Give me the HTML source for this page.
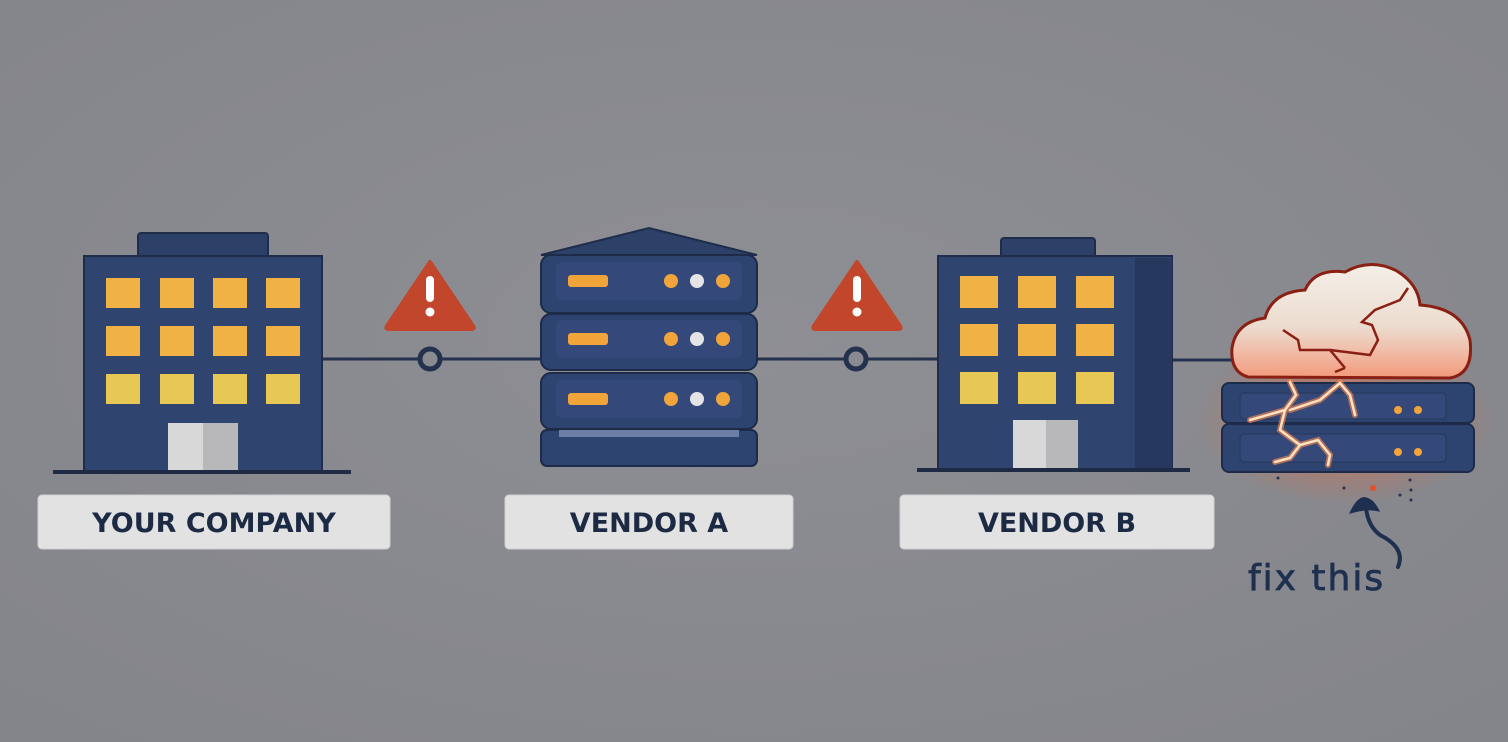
<!DOCTYPE html>
<html><head><style>
html,body{margin:0;padding:0;background:#898a8f;}
svg{display:block}
</style></head><body>
<svg width="1508" height="742" viewBox="0 0 1508 742" xmlns="http://www.w3.org/2000/svg">
<defs>
<radialGradient id="bg" cx="50%" cy="45%" r="70%"><stop offset="0" stop-color="#8e8f94"/><stop offset="1" stop-color="#84858a"/></radialGradient>
<radialGradient id="glow" cx="50%" cy="50%" r="50%"><stop offset="0" stop-color="#ff5a2a" stop-opacity="0.6"/><stop offset="1" stop-color="#ff5a2a" stop-opacity="0"/></radialGradient>
<linearGradient id="cloudg" x1="0" y1="0" x2="0" y2="1"><stop offset="0" stop-color="#f4efe8"/><stop offset="0.55" stop-color="#ecdccf"/><stop offset="1" stop-color="#f39a7c"/></linearGradient>
</defs>
<rect width="1508" height="742" fill="url(#bg)"/>

<g stroke="#25324d" stroke-width="3">
<line x1="322" y1="359" x2="541" y2="359"/>
<line x1="757" y1="359" x2="938" y2="359"/>
<line x1="1172" y1="360" x2="1235" y2="360"/>
</g>
<circle cx="430" cy="359" r="10" fill="#8a8b90" stroke="#25324d" stroke-width="5"/>
<circle cx="856" cy="359" r="10" fill="#8a8b90" stroke="#25324d" stroke-width="5"/>

<g>
<path d="M430 262 L473 326 Q475 329 471 329 L389 329 Q385 329 387 326 Z" fill="#c1462b" stroke="#c1462b" stroke-width="4" stroke-linejoin="round"/>
<rect x="426" y="276" width="8" height="26" rx="4" fill="#fff"/><circle cx="430" cy="312" r="4.5" fill="#fff"/>
<path d="M857 262 L900 326 Q902 329 898 329 L816 329 Q812 329 814 326 Z" fill="#c1462b" stroke="#c1462b" stroke-width="4" stroke-linejoin="round"/>
<rect x="853" y="276" width="8" height="26" rx="4" fill="#fff"/><circle cx="857" cy="312" r="4.5" fill="#fff"/>
</g>

<rect x="138" y="233" width="130" height="24" rx="3" fill="#2c4068" stroke="#1f2d4b" stroke-width="2"/>
<rect x="84" y="256" width="238" height="216" fill="#2f4570" stroke="#1f2d4b" stroke-width="2"/>
<g fill="#f0b245">
<rect x="106" y="278" width="34" height="30"/><rect x="160" y="278" width="34" height="30"/><rect x="213" y="278" width="34" height="30"/><rect x="266" y="278" width="34" height="30"/>
<rect x="106" y="326" width="34" height="30"/><rect x="160" y="326" width="34" height="30"/><rect x="213" y="326" width="34" height="30"/><rect x="266" y="326" width="34" height="30"/>
</g>
<g fill="#e8c855">
<rect x="106" y="374" width="34" height="30"/><rect x="160" y="374" width="34" height="30"/><rect x="213" y="374" width="34" height="30"/><rect x="266" y="374" width="34" height="30"/>
</g>
<rect x="168" y="423" width="70" height="49" fill="#d8d8d8"/><rect x="203" y="423" width="35" height="49" fill="#b8b8ba"/>
<rect x="53" y="470" width="298" height="4" fill="#1f2a44"/>

<path d="M541 255 L649 228 L757 255 Z" fill="#2c4068" stroke="#1f2d4b" stroke-width="2"/>
<g fill="#2e4470" stroke="#1e2b48" stroke-width="2">
<rect x="541" y="255" width="216" height="58" rx="10"/>
<rect x="541" y="314" width="216" height="56" rx="10"/>
<rect x="541" y="373" width="216" height="56" rx="10"/>
<rect x="541" y="430" width="216" height="36" rx="6"/>
</g>
<g fill="#34497a">
<rect x="556" y="262" width="186" height="38" rx="6"/>
<rect x="556" y="320" width="186" height="38" rx="6"/>
<rect x="556" y="380" width="186" height="38" rx="6"/>
</g>
<rect x="559" y="430" width="180" height="7" fill="#6a7ea6"/>
<g fill="#f0a43a">
<rect x="568" y="275" width="40" height="12" rx="3"/><circle cx="671" cy="281" r="7"/><circle cx="723" cy="281" r="7"/>
<rect x="568" y="333" width="40" height="12" rx="3"/><circle cx="671" cy="339" r="7"/><circle cx="723" cy="339" r="7"/>
<rect x="568" y="393" width="40" height="12" rx="3"/><circle cx="671" cy="399" r="7"/><circle cx="723" cy="399" r="7"/>
</g>
<g fill="#e4e4e6"><circle cx="697" cy="281" r="7"/><circle cx="697" cy="339" r="7"/><circle cx="697" cy="399" r="7"/></g>

<rect x="1001" y="238" width="94" height="22" rx="3" fill="#2c4068" stroke="#1f2d4b" stroke-width="2"/>
<rect x="938" y="256" width="234" height="214" fill="#2f4570" stroke="#1f2d4b" stroke-width="2"/>
<rect x="1135" y="258" width="37" height="212" fill="#26385e"/>
<g fill="#f0b245">
<rect x="960" y="276" width="38" height="32"/><rect x="1018" y="276" width="38" height="32"/><rect x="1076" y="276" width="38" height="32"/>
<rect x="960" y="324" width="38" height="32"/><rect x="1018" y="324" width="38" height="32"/><rect x="1076" y="324" width="38" height="32"/>
</g>
<g fill="#e8c855">
<rect x="960" y="372" width="38" height="32"/><rect x="1018" y="372" width="38" height="32"/><rect x="1076" y="372" width="38" height="32"/>
</g>
<rect x="1013" y="420" width="65" height="48" fill="#d8d8d8"/><rect x="1046" y="420" width="32" height="48" fill="#b8b8ba"/>
<rect x="917" y="468" width="273" height="4" fill="#1f2a44"/>

<ellipse cx="1345" cy="420" rx="150" ry="85" fill="url(#glow)"/>
<g fill="#2e4470" stroke="#1e2b48" stroke-width="2">
<rect x="1222" y="383" width="252" height="40" rx="7"/>
<rect x="1222" y="424" width="252" height="48" rx="7"/>
</g>
<rect x="1240" y="393" width="206" height="26" rx="4" fill="#34497a" stroke="#26365a"/>
<rect x="1240" y="434" width="206" height="28" rx="4" fill="#34497a" stroke="#26365a"/>
<g fill="#f0a43a"><circle cx="1398" cy="410" r="4"/><circle cx="1418" cy="410" r="4"/><circle cx="1398" cy="452" r="4"/><circle cx="1418" cy="452" r="4"/></g>
<path d="M1248 377 Q1230 372 1232 348 Q1236 322 1265 318 Q1272 292 1305 290 Q1315 268 1345 272 Q1370 258 1395 270 Q1418 283 1420 305 Q1462 308 1470 340 Q1474 374 1450 378 Z" fill="url(#cloudg)" stroke="#8a1f14" stroke-width="3"/>
<g fill="none" stroke="#8a1f14" stroke-width="2.5">
<path d="M1283 330 L1298 340 L1300 350 L1330 350 L1345 368"/>
<path d="M1330 350 L1370 355 L1378 340 L1372 325 L1362 322 L1375 310 L1400 300 L1408 288"/>
<path d="M1345 368 L1335 372"/>
</g>
<g fill="none" stroke="#ff8a4a" stroke-width="6" stroke-linecap="round" opacity="0.6">
<path d="M1290 382 L1296 395 L1285 410 L1250 420"/>
<path d="M1290 410 L1320 400 L1340 383 L1350 395 L1355 415"/>
<path d="M1285 410 L1280 430 L1300 445 L1290 458 L1275 462"/>
<path d="M1300 445 L1318 440 L1330 455 L1328 465"/>
</g>
<g fill="none" stroke="#ffe0c0" stroke-width="2.5" stroke-linecap="round">
<path d="M1290 382 L1296 395 L1285 410 L1250 420"/>
<path d="M1290 410 L1320 400 L1340 383 L1350 395 L1355 415"/>
<path d="M1285 410 L1280 430 L1300 445 L1290 458 L1275 462"/>
<path d="M1300 445 L1318 440 L1330 455 L1328 465"/>
</g>
<g fill="#25324d"><circle cx="1278" cy="478" r="1.5"/><circle cx="1344" cy="488" r="1.5"/><circle cx="1410" cy="480" r="1.5"/><circle cx="1411" cy="490" r="1.5"/><circle cx="1411" cy="500" r="1.5"/><circle cx="1400" cy="495" r="1.5"/></g>
<circle cx="1373" cy="488" r="3" fill="#e0502c"/>

<path d="M1398 567 Q1406 548 1380 535 Q1368 526 1366 508" fill="none" stroke="#1e2f4f" stroke-width="4" stroke-linecap="round"/>
<path d="M1349 514 Q1356 498 1364 497 Q1374 498 1380 512 Q1368 508 1349 514 Z" fill="#1e2f4f"/>
<text x="1248" y="590" font-family="'DejaVu Sans', sans-serif" font-size="36" letter-spacing="2" stroke="#1e2f4f" stroke-width="0.8" fill="#1e2f4f">fix this</text>

<g fill="#e2e2e3" stroke="#d0d0d2">
<rect x="38" y="495" width="352" height="54" rx="4"/>
<rect x="505" y="495" width="288" height="54" rx="4"/>
<rect x="900" y="495" width="314" height="54" rx="4"/>
</g>
<g font-family="'DejaVu Sans','Liberation Sans',sans-serif" font-weight="bold" font-size="27" fill="#1c2a44" text-anchor="middle">
<text x="214" y="532">YOUR COMPANY</text>
<text x="649" y="532">VENDOR A</text>
<text x="1057" y="532">VENDOR B</text>
</g>
</svg>
</body></html>
